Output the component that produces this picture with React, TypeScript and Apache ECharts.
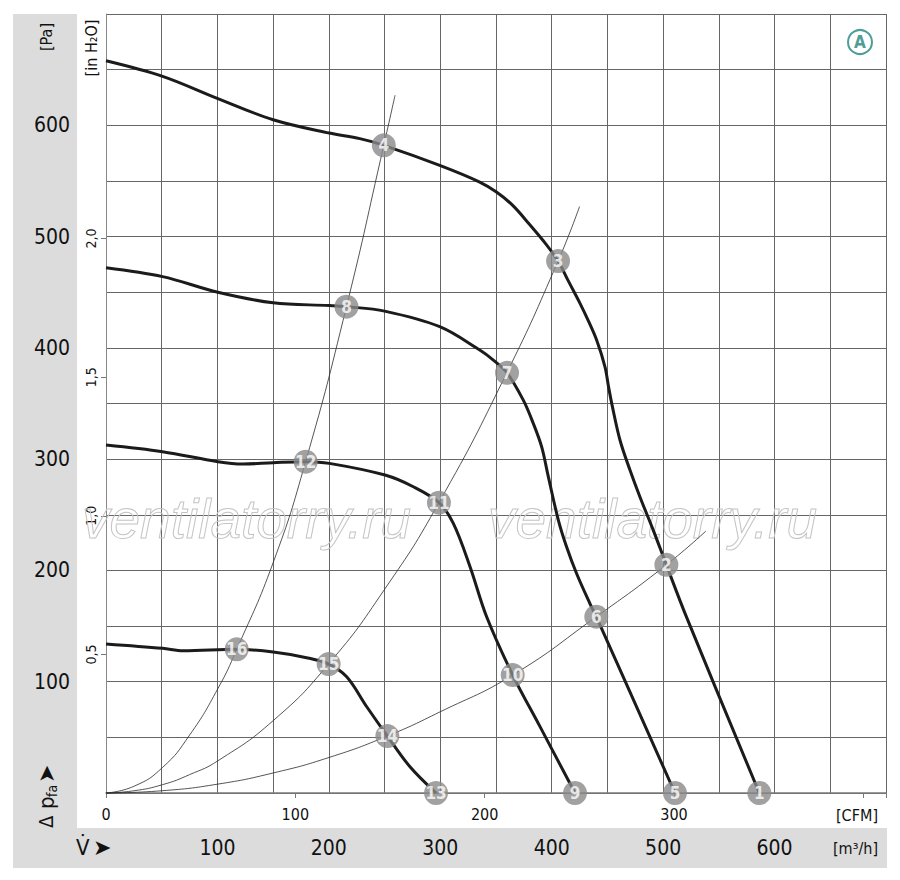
import React, { useEffect, useRef } from "react";
import * as echarts from "echarts";

const FONT = "'Liberation Sans Narrow', 'DejaVu Sans Condensed', 'Liberation Sans', sans-serif";

// tick labels
const flowLabelsM3h = [100, 200, 300, 400, 500, 600];
const flowLabelsCfm = [0, 100, 200, 300];
const pressureLabelsPa = [100, 200, 300, 400, 500, 600];
const pressureLabelsInH2O = [0.5, 1, 1.5, 2];

// fan characteristic curves [m3/h, Pa]
const fanCurve1 = [
  [0, 658], [50.8, 644], [100.4, 624], [150, 605], [200.3, 593], [227.8, 588], [249.3, 582],
  [299.5, 564], [335.4, 549], [350.4, 540], [365, 528], [380, 511], [395, 493], [405.7, 478],
  [415, 460], [425.4, 440], [433, 424], [440.3, 407], [447.8, 383], [451, 365], [454.5, 347],
  [461.3, 317], [470.3, 290], [479.2, 266], [491.2, 236], [502.9, 205], [521, 158], [586.3, 0],
];
const fanCurve2 = [
  [0, 472], [50.8, 464], [100.4, 450], [150, 440.5], [200.3, 438], [215.8, 437], [250, 433],
  [299.5, 419], [335.4, 398], [347.6, 389], [359.9, 377.6], [374.5, 353],
  [383.5, 332], [391, 311], [397, 284], [406, 245], [413.4, 221], [422.4, 197], [434.4, 170],
  [440, 158.4], [510.6, 0],
];
const fanCurve3 = [
  [0, 312.7], [50.8, 306.7], [100.5, 297.7], [123, 295.6], [150, 296.8], [179.2, 297.7],
  [200.4, 296.2], [250.4, 285.7], [275.8, 275.2], [298.8, 260.9], [311.7, 242.3],
  [326.7, 203.4], [341.6, 158.4], [365, 106], [389.5, 59.6], [420.9, 0],
];
const fanCurve4 = [
  [0, 133.9], [50.8, 130], [69.4, 127.9], [117.3, 129.1], [150, 126.7], [180, 121.6],
  [199.8, 115.9], [216, 104.5], [234, 77.5], [252.5, 51.2], [272.8, 23.6], [296.2, 0],
];

// system resistance curves [m3/h, Pa]
const systemCurve1 = [
  [0, 0], [25, 6], [50.8, 23], [75, 52], [100.5, 94], [117.3, 129], [150, 207], [179.2, 298],
  [215.8, 437], [249.3, 582], [259.4, 627],
];
const systemCurve2 = [
  [0, 0], [25, 2], [50.8, 7.5], [75, 16.5], [100.5, 29], [150, 65], [199.8, 116], [250, 183],
  [298.8, 261], [359.9, 378], [405.7, 478], [425, 527],
];
const systemCurve3 = [
  [0, 0], [50, 2], [100.5, 8], [150, 18], [200.4, 32], [252.5, 51.2], [300, 73], [365, 106],
  [440, 158.4], [502.9, 205], [538.4, 235.4],
];

// operating points
const markerLabels = ["1", "2", "3", "4", "5", "6", "7", "8", "9", "10", "11", "12", "13", "14", "15", "16"];
const markerFlow = [586.3, 502.9, 405.7, 249.3, 510.6, 440, 359.9, 215.8, 420.9, 365, 298.8, 179.2, 296.2, 252.5, 199.8, 117.3];
const markerPressure = [0, 205, 478, 582, 0, 158.4, 377.6, 437, 0, 106, 260.9, 297.7, 0, 51.2, 115.9, 129.1];

const M3H_PER_CFM = 1.69901;
const PA_PER_INH2O = 249.089;
const FLOW_MAX = 700;
const PRESSURE_MAX = 700;

export default function App() {
  const ref = useRef<HTMLDivElement>(null);

  useEffect(() => {
    if (!ref.current) return;
    const chart = echarts.init(ref.current, undefined, { renderer: "svg" });

    const fanLine = (data: number[][]) => ({
      type: "line",
      data,
      xAxisIndex: 0,
      yAxisIndex: 0,
      smooth: 0.35,
      showSymbol: false,
      symbol: "none",
      clip: false,
      lineStyle: { color: "#1b1b1b", width: 3 },
      z: 3,
    });
    const sysLine = (data: number[][]) => ({
      type: "line",
      data,
      xAxisIndex: 0,
      yAxisIndex: 0,
      smooth: 0.5,
      showSymbol: false,
      symbol: "none",
      clip: false,
      lineStyle: { color: "#2a2a2a", width: 0.8 },
      z: 2,
    });

    const markers = markerLabels.map((l, i) => [markerFlow[i], markerPressure[i], l]);

    const watermarkStyle = {
      fill: "rgba(0,0,0,0)",
      stroke: "#c4c4c4",
      lineWidth: 1,
      font: "italic 55px 'Liberation Sans', Arial, sans-serif",
      textVerticalAlign: "middle",
    };

    chart.setOption({
      animation: false,
      backgroundColor: "#ffffff",
      grid: { left: 106, top: 14, width: 780, height: 779, containLabel: false },
      xAxis: [
        {
          type: "value",
          min: 0,
          max: FLOW_MAX,
          interval: 50,
          position: "bottom",
          axisLine: { show: true, lineStyle: { color: "#7a7a7a", width: 1.5 } },
          axisTick: { show: false },
          splitLine: { show: true, lineStyle: { color: "#666666", width: 1 } },
          axisLabel: {
            margin: 44,
            fontSize: 21,
            color: "#111",
            fontFamily: FONT,
            formatter: (v: number) => (flowLabelsM3h.includes(v) ? String(v) : ""),
          },
        },
        {
          type: "value",
          min: 0,
          max: FLOW_MAX / M3H_PER_CFM,
          interval: 100,
          position: "bottom",
          axisLine: { show: false },
          axisTick: { show: true, length: 5, lineStyle: { color: "#777" } },
          splitLine: { show: false },
          axisLabel: {
            margin: 13,
            fontSize: 16,
            color: "#111",
            fontFamily: FONT,
            formatter: (v: number) => (flowLabelsCfm.includes(Math.round(v)) ? String(Math.round(v)) : ""),
          },
        },
      ],
      yAxis: [
        {
          type: "value",
          min: 0,
          max: PRESSURE_MAX,
          interval: 50,
          position: "left",
          axisLine: { show: true, lineStyle: { color: "#888", width: 1 } },
          axisTick: { show: false },
          splitLine: { show: true, lineStyle: { color: "#666666", width: 1 } },
          axisLabel: {
            margin: 36,
            fontSize: 21,
            color: "#111",
            fontFamily: FONT,
            formatter: (v: number) => (pressureLabelsPa.includes(v) ? String(v) : ""),
          },
        },
        {
          type: "value",
          min: 0,
          max: PRESSURE_MAX / PA_PER_INH2O,
          interval: 0.5,
          position: "left",
          offset: 0,
          axisLine: { show: false },
          axisTick: { show: true, length: 5, lineStyle: { color: "#777" }, customValues: pressureLabelsInH2O },
          splitLine: { show: false },
          axisLabel: {
            rotate: 90,
            margin: 8,
            fontSize: 14,
            color: "#111",
            fontFamily: FONT,
            customValues: pressureLabelsInH2O,
            formatter: (v: number) => v.toFixed(1).replace(".", ","),
          },
        },
      ],
      graphic: [
        { type: "rect", z: -10, shape: { x: 13, y: 14, width: 64, height: 854 }, style: { fill: "#dcdcdc" } },
        { type: "rect", z: -10, shape: { x: 13, y: 828, width: 874, height: 40 }, style: { fill: "#dcdcdc" } },
        {
          type: "text", x: 46, y: 37, rotation: Math.PI / 2, z: 5,
          style: { text: "[Pa]", fill: "#111", font: `16px ${FONT}`, textAlign: "center", textVerticalAlign: "middle" },
        },
        {
          type: "text", x: 91, y: 48, rotation: Math.PI / 2, z: 5,
          style: { text: "[in H₂O]", fill: "#111", font: `16px ${FONT}`, textAlign: "center", textVerticalAlign: "middle" },
        },
        {
          type: "group", x: 46, y: 797, rotation: Math.PI / 2, z: 5,
          children: [
            { type: "text", x: -31, y: 0, style: { text: "Δ", fill: "#111", font: `20px ${FONT}`, textAlign: "left", textVerticalAlign: "middle" } },
            { type: "text", x: -12, y: 0, style: { text: "p", fill: "#111", font: `22px ${FONT}`, textAlign: "left", textVerticalAlign: "middle" } },
            { type: "text", x: 0, y: 6, style: { text: "fa", fill: "#111", font: `14px ${FONT}`, textAlign: "left", textVerticalAlign: "middle" } },
            { type: "text", x: 14, y: 0, style: { text: "➤", fill: "#111", font: `22px 'DejaVu Sans', sans-serif`, textAlign: "left", textVerticalAlign: "middle" } },
          ],
        },
        {
          type: "text", x: 76, y: 847, z: 5,
          style: { text: "V̇", fill: "#111", font: `22px ${FONT}`, textAlign: "left", textVerticalAlign: "middle" },
        },
        {
          type: "text", x: 93, y: 847, z: 5,
          style: { text: "➤", fill: "#111", font: `22px 'DejaVu Sans', sans-serif`, textAlign: "left", textVerticalAlign: "middle" },
        },
        {
          type: "text", x: 878, y: 815, z: 5,
          style: { text: "[CFM]", fill: "#111", font: `16px ${FONT}`, textAlign: "right", textVerticalAlign: "middle" },
        },
        {
          type: "text", x: 878, y: 848, z: 5,
          style: { text: "[m³/h]", fill: "#111", font: `16px ${FONT}`, textAlign: "right", textVerticalAlign: "middle" },
        },
        {
          type: "circle", z: 5, shape: { cx: 860, cy: 42, r: 12 },
          style: { fill: "#fff", stroke: "#4e9d97", lineWidth: 2 },
        },
        {
          type: "text", x: 860, y: 42, z: 6,
          style: { text: "A", fill: "#4e9d97", font: `bold 17px ${FONT}`, textAlign: "center", textVerticalAlign: "middle" },
        },
        { type: "text", x: 82, y: 519, z: 1, style: { ...watermarkStyle, text: "ventilatorry.ru" } },
        { type: "text", x: 488, y: 519, z: 1, style: { ...watermarkStyle, text: "ventilatorry.ru" } },
      ],
      series: [
        sysLine(systemCurve1),
        sysLine(systemCurve2),
        sysLine(systemCurve3),
        fanLine(fanCurve1),
        fanLine(fanCurve2),
        fanLine(fanCurve3),
        fanLine(fanCurve4),
        {
          type: "scatter",
          data: markers,
          xAxisIndex: 0,
          yAxisIndex: 0,
          symbol: "circle",
          symbolSize: 24,
          clip: false,
          itemStyle: { color: "#8a8a8a" },
          label: {
            show: true,
            position: "inside",
            color: "#fff",
            fontWeight: "bold",
            fontSize: 17,
            fontFamily: FONT,
            formatter: (p: any) => p.data[2],
          },
          z: 10,
        },
      ],
    });

    return () => chart.dispose();
  }, []);

  return (
    <div
      ref={ref}
      style={{ position: "fixed", left: 0, top: 0, width: 900, height: 880, background: "#fff" }}
    />
  );
}
